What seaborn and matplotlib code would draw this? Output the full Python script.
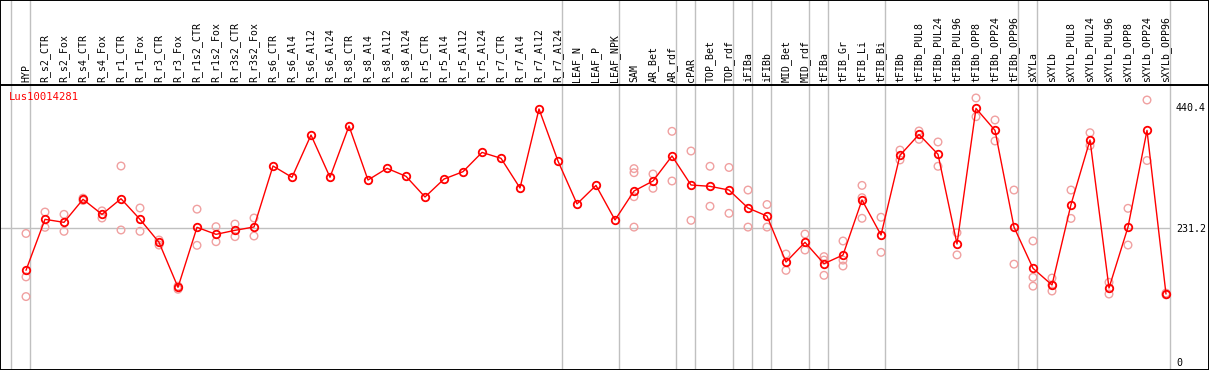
import numpy as np
import pandas as pd
import matplotlib
matplotlib.use("Agg")
import matplotlib.pyplot as plt
import seaborn as sns

categories = [
    "HYP", "R_s2_CTR", "R_s2_Fox", "R_s4_CTR", "R_s4_Fox", "R_r1_CTR", "R_r1_Fox",
    "R_r3_CTR", "R_r3_Fox", "R_r1s2_CTR", "R_r1s2_Fox", "R_r3s2_CTR", "R_r3s2_Fox",
    "R_s6_CTR", "R_s6_Al4", "R_s6_Al12", "R_s6_Al24", "R_s8_CTR", "R_s8_Al4",
    "R_s8_Al12", "R_s8_Al24", "R_r5_CTR", "R_r5_Al4", "R_r5_Al12", "R_r5_Al24",
    "R_r7_CTR", "R_r7_Al4", "R_r7_Al12", "R_r7_Al24", "LEAF_N", "LEAF_P", "LEAF_NPK",
    "SAM", "AR_Bet", "AR_rdf", "cPAR", "TOP_Bet", "TOP_rdf", "iFIBa", "iFIBb",
    "MID_Bet", "MID_rdf", "tFIBa", "tFIB_Gr", "tFIB_Li", "tFIB_Bi", "tFIBb",
    "tFIBb_PUL8", "tFIBb_PUL24", "tFIBb_PUL96", "tFIBb_OPP8", "tFIBb_OPP24",
    "tFIBb_OPP96", "sXYLa", "sXYLb", "sXYLb_PUL8", "sXYLb_PUL24", "sXYLb_PUL96",
    "sXYLb_OPP8", "sXYLb_OPP24", "sXYLb_OPP96",
]

means = [
    158.4, 246.4, 241.2, 281, 255, 282, 246.4, 206.7, 129, 232.6, 220.5, 227.4, 233.2,
    338.5, 319, 392, 319, 407.6, 314.3, 334.5,
    320.7, 285, 316, 328.7, 362, 351.8, 300.5, 437, 347, 273, 305, 245.3,
    295.3, 312.6, 355.8, 305.7, 303.4, 297, 266, 252, 172.7,
    206.7, 169.8, 184.8, 279.8, 219.3, 357, 393, 358.7, 203.8, 438, 400, 233,
    161.8, 133, 272, 383.4, 127.8, 233, 400, 117.4,
]

replicates = [
    [222, 147, 113], [259, 232.6], [255, 225.7], [283, 279], [261, 248.7],
    [338.5, 228], [266, 225.7], [210.7, 202], [131, 125.6], [264, 201.5],
    [233.7, 207.8], [238.3, 216.5], [248.7, 217.6],
    [], [], [], [], [], [], [], [], [], [], [], [], [], [], [], [], [], [], [],
    [334, 327, 285.5, 233], [324.7, 300], [398.4, 312.6], [364.4, 244.7],
    [338, 269], [336, 256.8], [297, 233], [272, 233], [186.5, 158.3],
    [221, 193.4], [182, 176, 149.7], [209, 176, 165.8], [305, 283.8, 248.2],
    [250, 189.4], [366, 349], [399, 384.6], [380, 338], [223.4, 185],
    [456, 423.7], [418, 381.7], [297, 169], [209, 146.2, 131], [145, 133, 122.6],
    [297, 248], [396, 373.7], [137.6, 117.4], [265.4, 202], [452.5, 348],
    [119, 116],
]

group_ends = [-1, 0, 28, 31, 34, 35, 37, 38, 39, 41, 42, 45, 52, 53, 60]
ytick_values = [0, 231.2, 440.4]
ytick_labels = ["0", "231.2", "440.4"]
gene_label = "Lus10014281"

sns.set_style("white")
plt.rcParams["font.family"] = ["DejaVu Sans Mono", "DejaVu Sans"]

RED = "#ff0000"
PINK = "#f0a0a0"
GRAY = "#c0c0c0"

W, H = 1209, 370
fig = plt.figure(figsize=(W / 100, H / 100), dpi=100)
head_h = 85
hax = fig.add_axes([0, 1 - head_h / H, 1, head_h / H])
ax = fig.add_axes([0, 0, 1, 1 - head_h / H])

xpos = np.arange(len(categories))
x_lo = (0 - 26) / 19
x_hi = (W - 26) / 19
for a in (ax, hax):
    a.set_xlim(x_lo, x_hi)
    a.set_facecolor("white")
    for s in a.spines.values():
        s.set_color("black")
        s.set_linewidth(1.4)
    for g in group_ends:
        a.axvline(g + 0.23, color=GRAY, lw=1.0, zorder=0)
hax.spines["bottom"].set_visible(False)

hax.set_ylim(0, 1)
hax.set_xticks([])
hax.set_yticks([])
for xi, lab in zip(xpos, categories):
    hax.text(xi, 0.03, lab, rotation=90, ha="center", va="bottom",
             fontsize=7.1, color="black")

# main plot
px_per_unit = 0.579
y_top = (362 - 85) / px_per_unit
y_bot = (362 - 370) / px_per_unit
ax.set_ylim(y_bot, y_top)
ax.hlines(231.2, x_lo, group_ends[-1] + 0.23, color=GRAY, lw=1.0, zorder=0)

rep_df = pd.DataFrame(
    [(i, v) for i, vals in enumerate(replicates) for v in vals],
    columns=["pos", "value"],
)
sns.scatterplot(data=rep_df, x="pos", y="value", ax=ax, marker="o",
                facecolors="none", edgecolors=PINK, linewidths=1.0, s=30,
                zorder=2, legend=False)

mean_df = pd.DataFrame({"pos": xpos, "value": means})
sns.lineplot(data=mean_df, x="pos", y="value", ax=ax, color=RED, lw=1.0,
             marker="o", markersize=5.4, markerfacecolor="none",
             markeredgecolor=RED, markeredgewidth=1.3, zorder=3, legend=False)

ax.set_xlabel("")
ax.set_ylabel("")
ax.set_xticks([])
ax.yaxis.tick_right()
ax.set_yticks(ytick_values)
ax.set_yticklabels(ytick_labels)
ax.tick_params(axis="y", length=0, pad=-23.8, labelsize=7.2, labelcolor="black")
for t in ax.get_yticklabels():
    t.set_horizontalalignment("left")

ax.text(9 / W, 1 - 12 / (H - head_h), gene_label, transform=ax.transAxes,
        ha="left", va="center", color=RED, fontsize=7.6)

fig.savefig("out.png", dpi=100)
